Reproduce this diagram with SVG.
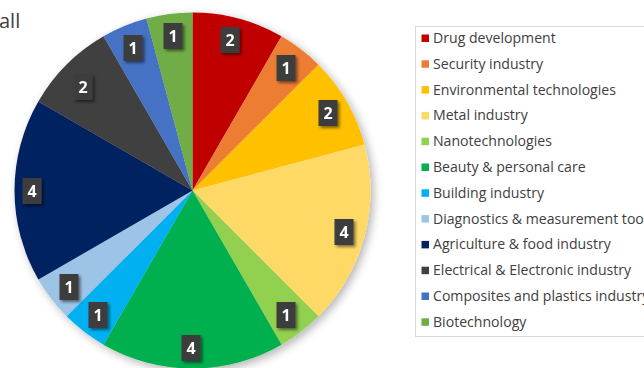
<svg xmlns="http://www.w3.org/2000/svg" width="644" height="368" viewBox="0 0 644 368">
<defs>
<filter id="pieShadow" x="-20%" y="-20%" width="140%" height="140%">
<feGaussianBlur in="SourceAlpha" stdDeviation="5"/>
<feOffset dx="3" dy="3" result="b"/>
<feComponentTransfer><feFuncA type="linear" slope="0.3"/></feComponentTransfer>
<feMerge><feMergeNode/><feMergeNode in="SourceGraphic"/></feMerge>
</filter>
<filter id="lblShadow" x="-50%" y="-50%" width="200%" height="200%">
<feGaussianBlur in="SourceAlpha" stdDeviation="1.5"/>
<feOffset dx="2" dy="2" result="b"/>
<feComponentTransfer><feFuncA type="linear" slope="0.5"/></feComponentTransfer>
<feMerge><feMergeNode/><feMergeNode in="SourceGraphic"/></feMerge>
</filter>
</defs>
<style>
.lblbox{fill:#3c3c3c;}
.lbl{font-family:"Open Sans","Liberation Sans",sans-serif;font-weight:bold;font-size:16px;fill:#ffffff;text-anchor:middle;}
.leg{font-family:"Open Sans","Liberation Sans",sans-serif;font-size:14.1px;fill:#404040;}
.title{font-family:"Open Sans","Liberation Sans",sans-serif;font-size:20px;fill:#404040;}
</style>
<rect width="644" height="368" fill="#ffffff"/>
<text class="title" x="-1" y="28">all</text>
<g id="pie" filter="url(#pieShadow)">
<path id="s-drug" d="M192.5,190.5 L192.5,12.5 A178,178 0 0 1 281.5,36.35 Z" fill="#C00000"/>
<path id="s-security" d="M192.5,190.5 L281.5,36.35 A178,178 0 0 1 318.36,64.64 Z" fill="#ED7D31"/>
<path id="s-env" d="M192.5,190.5 L318.36,64.64 A178,178 0 0 1 364.44,144.43 Z" fill="#FFC000"/>
<path id="s-metal" d="M192.5,190.5 L364.44,144.43 A178,178 0 0 1 318.36,316.36 Z" fill="#FFD966"/>
<path id="s-nano" d="M192.5,190.5 L318.36,316.36 A178,178 0 0 1 281.5,344.65 Z" fill="#92D050"/>
<path id="s-beauty" d="M192.5,190.5 L281.5,344.65 A178,178 0 0 1 103.5,344.65 Z" fill="#00B050"/>
<path id="s-building" d="M192.5,190.5 L103.5,344.65 A178,178 0 0 1 66.64,316.36 Z" fill="#00B0F0"/>
<path id="s-diag" d="M192.5,190.5 L66.64,316.36 A178,178 0 0 1 38.35,279.5 Z" fill="#9DC3E6"/>
<path id="s-agri" d="M192.5,190.5 L38.35,279.5 A178,178 0 0 1 38.35,101.5 Z" fill="#002060"/>
<path id="s-elec" d="M192.5,190.5 L38.35,101.5 A178,178 0 0 1 103.5,36.35 Z" fill="#404040"/>
<path id="s-comp" d="M192.5,190.5 L103.5,36.35 A178,178 0 0 1 146.43,18.57 Z" fill="#4472C4"/>
<path id="s-bio" d="M192.5,190.5 L146.43,18.57 A178,178 0 0 1 192.5,12.5 Z" fill="#70AD47"/>
</g>
<g id="labels">
<g id="l-drug" filter="url(#lblShadow)"><rect class="lblbox" x="220.5" y="27" width="19" height="26"/><text class="lbl" x="230" y="46">2</text></g>
<g id="l-security" filter="url(#lblShadow)"><rect class="lblbox" x="276.5" y="55" width="19" height="26"/><text class="lbl" x="286" y="74">1</text></g>
<g id="l-env" filter="url(#lblShadow)"><rect class="lblbox" x="318.5" y="100" width="19" height="26"/><text class="lbl" x="328" y="119">2</text></g>
<g id="l-metal" filter="url(#lblShadow)"><rect class="lblbox" x="334.5" y="219" width="19" height="26"/><text class="lbl" x="344" y="238">4</text></g>
<g id="l-nano" filter="url(#lblShadow)"><rect class="lblbox" x="276.5" y="302" width="19" height="26"/><text class="lbl" x="286" y="321">1</text></g>
<g id="l-beauty" filter="url(#lblShadow)"><rect class="lblbox" x="181.5" y="335" width="19" height="26"/><text class="lbl" x="191" y="354">4</text></g>
<g id="l-building" filter="url(#lblShadow)"><rect class="lblbox" x="88.5" y="302" width="19" height="26"/><text class="lbl" x="98" y="321">1</text></g>
<g id="l-diag" filter="url(#lblShadow)"><rect class="lblbox" x="59.5" y="274" width="19" height="26"/><text class="lbl" x="69" y="293">1</text></g>
<g id="l-agri" filter="url(#lblShadow)"><rect class="lblbox" x="22.5" y="178" width="19" height="26"/><text class="lbl" x="32" y="197">4</text></g>
<g id="l-elec" filter="url(#lblShadow)"><rect class="lblbox" x="73.5" y="74" width="19" height="26"/><text class="lbl" x="83" y="93">2</text></g>
<g id="l-comp" filter="url(#lblShadow)"><rect class="lblbox" x="123.5" y="35" width="19" height="26"/><text class="lbl" x="133" y="54">1</text></g>
<g id="l-bio" filter="url(#lblShadow)"><rect class="lblbox" x="163.5" y="23" width="19" height="26"/><text class="lbl" x="173" y="42">1</text></g>
</g>
<g id="legend">
<rect x="415.5" y="26.5" width="240" height="310" fill="#ffffff" stroke="#d9d9d9" stroke-width="1"/>
<g id="leg-drug"><rect x="421.5" y="34.5" width="7.5" height="7.5" fill="#C00000"/><text class="leg" x="433" y="43">Drug development</text></g>
<g id="leg-security"><rect x="421.5" y="60.3" width="7.5" height="7.5" fill="#ED7D31"/><text class="leg" x="433" y="68.8">Security industry</text></g>
<g id="leg-env"><rect x="421.5" y="86.1" width="7.5" height="7.5" fill="#FFC000"/><text class="leg" x="433" y="94.6">Environmental technologies</text></g>
<g id="leg-metal"><rect x="421.5" y="111.9" width="7.5" height="7.5" fill="#FFD966"/><text class="leg" x="433" y="120.4">Metal industry</text></g>
<g id="leg-nano"><rect x="421.5" y="137.7" width="7.5" height="7.5" fill="#92D050"/><text class="leg" x="433" y="146.2">Nanotechnologies</text></g>
<g id="leg-beauty"><rect x="421.5" y="163.5" width="7.5" height="7.5" fill="#00B050"/><text class="leg" x="433" y="172">Beauty &amp; personal care</text></g>
<g id="leg-building"><rect x="421.5" y="189.3" width="7.5" height="7.5" fill="#00B0F0"/><text class="leg" x="433" y="197.8">Building industry</text></g>
<g id="leg-diag"><rect x="421.5" y="215.1" width="7.5" height="7.5" fill="#9DC3E6"/><text class="leg" x="433" y="223.6">Diagnostics &amp; measurement tools</text></g>
<g id="leg-agri"><rect x="421.5" y="240.9" width="7.5" height="7.5" fill="#002060"/><text class="leg" x="433" y="249.4">Agriculture &amp; food industry</text></g>
<g id="leg-elec"><rect x="421.5" y="266.7" width="7.5" height="7.5" fill="#404040"/><text class="leg" x="433" y="275.2">Electrical &amp; Electronic industry</text></g>
<g id="leg-comp"><rect x="421.5" y="292.5" width="7.5" height="7.5" fill="#4472C4"/><text class="leg" x="433" y="301">Composites and plastics industry</text></g>
<g id="leg-bio"><rect x="421.5" y="318.3" width="7.5" height="7.5" fill="#70AD47"/><text class="leg" x="433" y="326.8">Biotechnology</text></g>
</g>
</svg>
